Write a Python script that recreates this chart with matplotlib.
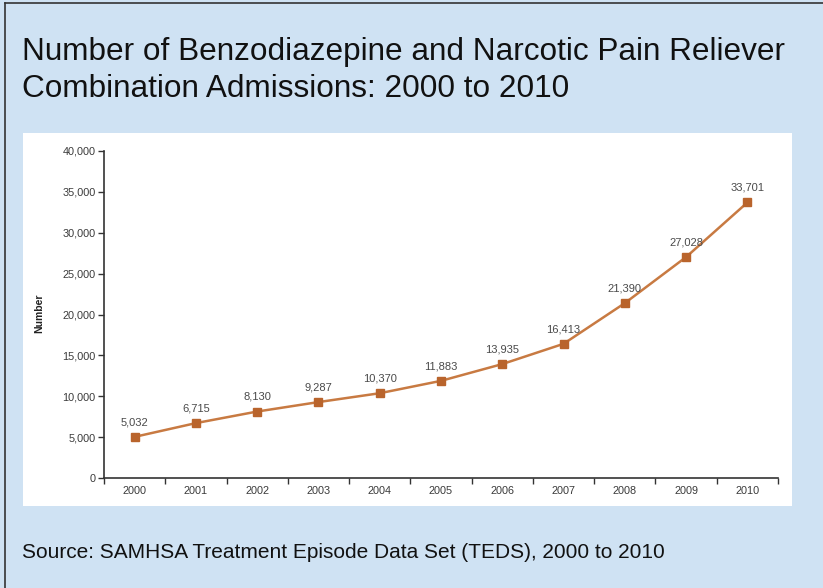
import matplotlib
matplotlib.use("Agg")
import matplotlib.pyplot as plt
from matplotlib.patches import Rectangle
from matplotlib.lines import Line2D
from matplotlib.ticker import FuncFormatter

years = ["2000", "2001", "2002", "2003", "2004", "2005", "2006", "2007", "2008", "2009", "2010"]
admissions = [5032, 6715, 8130, 9287, 10370, 11883, 13935, 16413, 21390, 27028, 33701]
yticks = [0, 5000, 10000, 15000, 20000, 25000, 30000, 35000, 40000]

title_lines = ["Number of Benzodiazepine and Narcotic Pain Reliever",
               "Combination Admissions: 2000 to 2010"]
source = "Source: SAMHSA Treatment Episode Data Set (TEDS), 2000 to 2010"

plt.rcParams['font.family'] = ['Liberation Sans', 'DejaVu Sans']

W, H = 823, 588
fig = plt.figure(figsize=(W / 100, H / 100), dpi=100)
fig.patch.set_facecolor('#cfe2f3')

# white panel behind the chart
fig.patches.append(Rectangle((23 / W, 1 - 506 / H), (792 - 23) / W, (506 - 133) / H,
                             transform=fig.transFigure, facecolor='white',
                             edgecolor='none', zorder=0))
# dark frame on left and top
fig.lines.append(Line2D([5 / W, 5 / W], [0, 1 - 3 / H], transform=fig.transFigure,
                        color='#333333', lw=1.2))
fig.lines.append(Line2D([5 / W, 1], [1 - 3 / H, 1 - 3 / H], transform=fig.transFigure,
                        color='#333333', lw=1.2))

for line, base in zip(title_lines, [60, 96.7]):
    fig.text(22 / W, 1 - base / H, line, fontsize=22.7, color='#111111',
             ha='left', va='baseline')
fig.text(22 / W, 1 - 557.7 / H, source, fontsize=15, color='#111111',
         ha='left', va='baseline')

ax = fig.add_axes([104 / W, 1 - 478 / H, (778 - 104) / W, (478 - 151) / H])
ax.set_zorder(2)
ax.set_facecolor('white')
x = list(range(len(years)))
ax.plot(x, admissions, color='#c87a42', lw=1.8, marker='s', markersize=6,
        markerfacecolor='#b9642c', markeredgecolor='#b9642c', zorder=3)
for xi, v in zip(x, admissions):
    ax.annotate(f"{v:,}", (xi, v), xytext=(0, 7), textcoords='offset points',
                ha='center', va='bottom', fontsize=8, color='#4a4a4a')

ax.set_xlim(-0.5, 10.5)
ax.set_ylim(0, 40000)
ax.set_yticks(yticks)
ax.yaxis.set_major_formatter(FuncFormatter(lambda v, p: f"{int(v):,}"))
ax.set_xticks(x)
ax.set_xticklabels(years)
ax.set_xticks([i - 0.5 for i in range(len(years) + 1)], minor=True)
ax.tick_params(axis='x', which='major', length=0, pad=6, labelsize=7.8, labelcolor='#3a3a3a')
ax.tick_params(axis='x', which='minor', length=4, width=1, color='#333333', direction='out')
ax.tick_params(axis='y', length=4, width=1, color='#333333', labelsize=7.8, labelcolor='#3a3a3a', pad=2)
for s in ['top', 'right']:
    ax.spines[s].set_visible(False)
for s in ['left', 'bottom']:
    ax.spines[s].set_color('#333333')
    ax.spines[s].set_linewidth(1.2)

fig.text(39 / W, 1 - 313 / H, "Number", rotation=90, fontsize=7.5, fontweight='bold',
         color='#222222', ha='center', va='center')

fig.savefig("out.png", dpi=100, facecolor=fig.get_facecolor())
